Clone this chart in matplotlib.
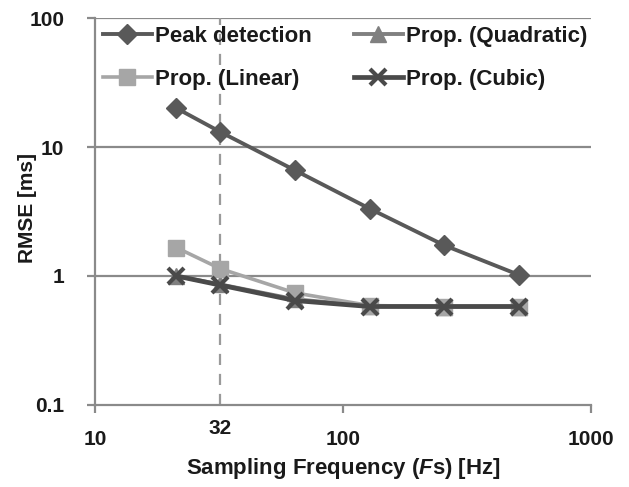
import matplotlib
matplotlib.use("Agg")
import matplotlib.pyplot as plt
from matplotlib.font_manager import FontProperties

plt.rcParams['font.family'] = ['Liberation Sans', 'DejaVu Sans']
plt.rcParams['font.weight'] = 'bold'
plt.rcParams['axes.labelweight'] = 'bold'
plt.rcParams['mathtext.fontset'] = 'custom'
plt.rcParams['mathtext.it'] = 'Liberation Sans:bold:italic'
plt.rcParams['mathtext.rm'] = 'Liberation Sans:bold'

# sampling frequencies (Hz)
fs = [21.3, 32, 64, 128, 256, 512]
peak = [20.0, 13.1, 6.6, 3.33, 1.73, 1.02]
quadratic = [1.0, 0.86, 0.66, 0.585, 0.58, 0.58]
linear = [1.66, 1.14, 0.74, 0.59, 0.58, 0.58]
cubic = [1.0, 0.85, 0.645, 0.58, 0.58, 0.58]
fs_marker = 32
xticks = [10, 100, 1000]
yticks = [0.1, 1, 10, 100]

fig = plt.figure(figsize=(6.29, 4.87), dpi=100)
ax = fig.add_axes([0.151, 0.1684, 0.7886, 0.7946])

grid_c = '#8a8a8a'
txt_c = '#1a1a1a'
tick_font = FontProperties(family='Liberation Sans', weight='bold', size=15)

h_peak, = ax.plot(fs, peak, color='#595959', lw=2.8, marker='D', ms=10,
                  label='Peak detection', zorder=3)
h_quad, = ax.plot(fs, quadratic, color='#808080', lw=2.8, marker='^', ms=11,
                  label='Prop. (Quadratic)', zorder=4)
h_lin, = ax.plot(fs, linear, color='#a6a6a6', lw=2.6, marker='s', ms=11,
                 label='Prop. (Linear)', zorder=5)
h_cub, = ax.plot(fs, cubic, color='#4a4a4a', lw=3.4, marker='x', ms=11,
                 mew=3, label='Prop. (Cubic)', zorder=6)

ax.axvline(fs_marker, color='#9a9a9a', lw=1.6, ls=(0, (5, 4)), zorder=1)

ax.set_xscale('log')
ax.set_yscale('log')
ax.set_xlim(10, 1000)
ax.set_ylim(0.1, 100)
ax.minorticks_off()
ax.tick_params(axis='both', direction='out', length=6, width=1.6,
               color=grid_c, labelsize=15, labelcolor=txt_c)
ax.tick_params(axis='x', pad=12)
ax.tick_params(axis='y', pad=16)
ax.set_xticks(xticks, [str(v) for v in xticks], fontproperties=tick_font)
ax.set_yticks(yticks, [f'{v:g}' for v in yticks], fontproperties=tick_font)

for y in [1, 10, 100]:
    ax.axhline(y, color=grid_c, lw=1.6, zorder=0)

for s in ['top', 'right']:
    ax.spines[s].set_visible(False)
for s in ['left', 'bottom']:
    ax.spines[s].set_color(grid_c)
    ax.spines[s].set_linewidth(1.6)

ax.text(fs_marker, -0.035, '32', transform=ax.get_xaxis_transform(),
        ha='center', va='top', fontproperties=tick_font, color=txt_c)

ax.set_xlabel('Sampling Frequency ($F$s) [Hz]', fontsize=16,
              fontweight='bold', color=txt_c, labelpad=5)
ax.set_ylabel('RMSE [ms]', fontsize=15, fontweight='bold', color=txt_c)
ax.yaxis.set_label_coords(-0.117, 0.51)

ax.legend([h_peak, h_lin, h_quad, h_cub],
          ['Peak detection', 'Prop. (Linear)', 'Prop. (Quadratic)', 'Prop. (Cubic)'],
          ncol=2, loc='upper left', bbox_to_anchor=(0.0, 1.0), frameon=False,
          prop={'size': 16, 'weight': 'bold'}, handlelength=2.2,
          handletextpad=0.15, columnspacing=1.9, labelspacing=1.0,
          borderpad=0.35, borderaxespad=0.0, labelcolor=txt_c)

fig.savefig('out.png', dpi=100)
